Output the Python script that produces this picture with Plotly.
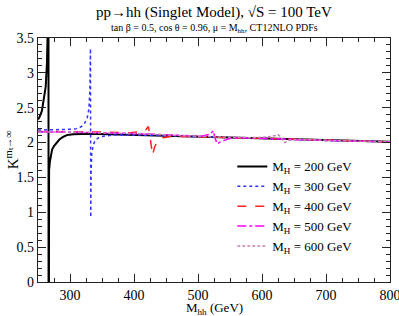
import plotly.graph_objects as go

# ---- data ----
m200 = [250, 252, 256, 260, 262, 264, 265.3, 266.3, 266.6, 267.3, 268.5, 270.5, 272, 275, 278, 283, 289, 296, 305, 330, 360, 400, 450, 500, 550, 600, 650, 700, 750, 800]
k200 = [2.33, 2.36, 2.45, 2.65, 2.8, 3.14, 3.7, 8.0, -5.0, 1.6, 1.72, 1.84, 1.9, 1.95, 1.99, 2.04, 2.08, 2.11, 2.12, 2.125, 2.12, 2.11, 2.10, 2.085, 2.07, 2.06, 2.045, 2.03, 2.02, 2.01]

m300 = [250, 275, 300, 310, 318, 323, 327, 329.5, 331, 332, 332.4, 333, 334, 336.5, 340, 345, 352, 370, 400, 450, 500, 600, 700, 800]
k300 = [2.18, 2.18, 2.19, 2.2, 2.23, 2.28, 2.36, 2.48, 2.75, 3.35, 0.93, 1.6, 1.85, 1.97, 2.04, 2.07, 2.09, 2.11, 2.11, 2.10, 2.085, 2.06, 2.03, 2.01]

m400 = [250, 300, 350, 394, 405, 414, 419, 422.5, 424, 427, 429, 432, 436, 445, 460, 500, 600, 700, 800]
k400 = [2.16, 2.16, 2.15, 2.14, 2.15, 2.16, 2.19, 2.23, 2.15, 1.95, 1.82, 1.93, 2.01, 2.07, 2.09, 2.085, 2.06, 2.03, 2.01]

m500 = [250, 300, 400, 480, 506, 519, 524, 526, 530, 535, 540, 550, 570, 600, 700, 800]
k500 = [2.15, 2.15, 2.13, 2.10, 2.09, 2.12, 2.17, 2.08, 1.98, 2.01, 2.03, 2.06, 2.07, 2.06, 2.03, 2.01]

m600 = [250, 300, 400, 500, 580, 600, 615, 625, 630, 633, 636, 642, 650, 700, 800]
k600 = [2.15, 2.15, 2.13, 2.09, 2.07, 2.075, 2.09, 2.11, 2.08, 2.02, 2.0, 2.03, 2.045, 2.03, 2.01]

x_ticks = [300, 400, 500, 600, 700, 800]
y_ticks = [0, 0.5, 1, 1.5, 2, 2.5, 3, 3.5]
y_ticklabels = ["0", "0.5", "1", "1.5", "2", "2.5", "3", "3.5"]

names = ["M<sub>H</sub> = 200 GeV", "M<sub>H</sub> = 300 GeV", "M<sub>H</sub> = 400 GeV",
         "M<sub>H</sub> = 500 GeV", "M<sub>H</sub> = 600 GeV"]

FONT = "Liberation Serif"

series = [
    (m200, k200, "black", "solid", 2),
    (m300, k300, "#3333ff", "dot", 1.5),
    (m400, k400, "#ff2222", "dash", 1.5),
    (m500, k500, "#ff00ff", "dashdot", 1.5),
    (m600, k600, "#c383b3", "3px,2px", 1.5),
]

fig = go.Figure()
for (x, y, c, d, w), n in zip(series, names):
    fig.add_trace(go.Scatter(x=x, y=y, mode="lines", name=n,
                             line=dict(color=c, dash=d, width=w)))

axis_common = dict(showline=True, linecolor="#222", linewidth=1.2, mirror="allticks",
                   ticks="inside", ticklen=8, tickcolor="#222", showgrid=False, zeroline=False,
                   automargin=False, ticklabeloverflow="allow",
                   tickfont=dict(family=FONT, size=14, color="black"))

fig.update_xaxes(range=[250, 800], tickmode="array", tickvals=x_ticks,
                 minor=dict(ticks="inside", ticklen=4, dtick=25, tickcolor="#222"),
                 **axis_common)
fig.update_yaxes(range=[0, 3.5], tickmode="array", tickvals=y_ticks, ticktext=y_ticklabels,
                 minor=dict(ticks="inside", ticklen=4, dtick=0.1, tickcolor="#222"),
                 **axis_common)

fig.update_layout(
    width=399, height=316,
    margin=dict(l=38, r=9, t=38, b=34),
    paper_bgcolor="white", plot_bgcolor="white",
    font=dict(family=FONT, color="black"),
    showlegend=True,
    legend=dict(x=0.552, y=0.535, xanchor="left", yanchor="top", bgcolor="rgba(0,0,0,0)",
                font=dict(family=FONT, size=13, color="black"), tracegroupgap=0, itemwidth=30),
    annotations=[
        dict(text="pp→hh (Singlet Model), √S = 100 TeV", xref="paper", yref="paper",
             x=0.5, y=1 + 26 / 244, xanchor="center", yanchor="middle", showarrow=False,
             font=dict(family=FONT, size=15, color="black")),
        dict(text="tan β = 0.5, cos θ = 0.96, μ = M<sub>hh</sub>, CT12NLO PDFs", xref="paper", yref="paper",
             x=0.5, y=1 + 10 / 244, xanchor="center", yanchor="middle", showarrow=False,
             font=dict(family=FONT, size=10, color="black")),
        dict(text="M<sub>hh</sub> (GeV)", xref="paper", yref="paper",
             x=0.5, y=-26.5 / 244, xanchor="center", yanchor="middle", showarrow=False,
             font=dict(family=FONT, size=13, color="black")),
        dict(text="K<sup>mₜ→∞</sup>", xref="paper", yref="paper",
             x=-26 / 352, y=0.54, xanchor="center", yanchor="middle", textangle=-90, showarrow=False,
             font=dict(family=FONT, size=15, color="black")),
    ],
)

fig.write_html("out.html", config={"displayModeBar": False},
               post_script="document.body.style.margin='0';")
